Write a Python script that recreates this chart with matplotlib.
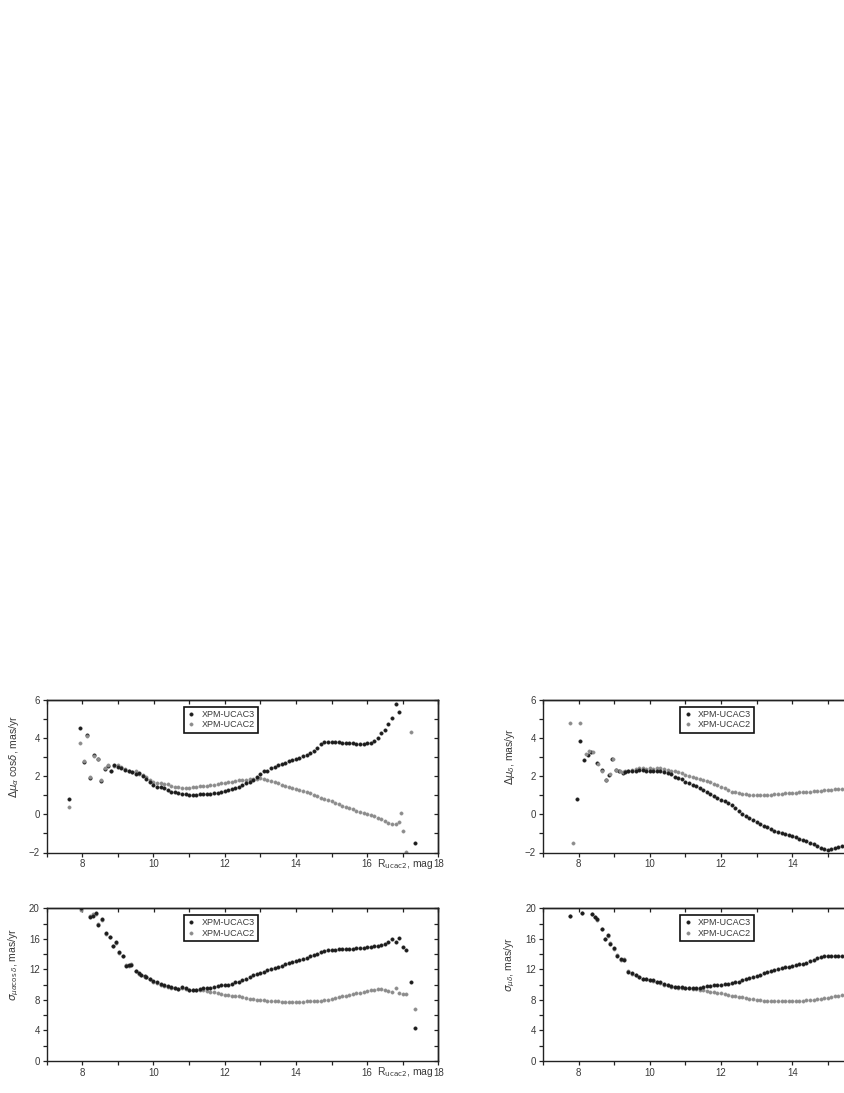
import numpy as np
import matplotlib
matplotlib.use("Agg")
import matplotlib.pyplot as plt
from matplotlib.ticker import MultipleLocator, FixedLocator, NullFormatter

plt.rcParams['font.family'] = ['Liberation Sans', 'DejaVu Sans']
plt.rcParams['mathtext.fontset'] = 'dejavusans'

# ---------------- data ----------------
# Panel A: delta mu_alpha cos(delta)
a_early_x = [7.64, 7.94, 8.05, 8.13, 8.23, 8.34, 8.43, 8.53, 8.64, 8.73]
a_early_u3 = [0.83, 4.54, 2.75, 4.16, 1.93, 3.10, 2.93, 1.75, 2.40, 2.55]
a_early_u2 = [0.38, 3.77, 2.80, 4.10, 1.95, 3.05, 2.90, 1.80, 2.45, 2.60]
a_grid = np.round(np.arange(8.8, 16.95, 0.1), 1)
a_u3 = [2.30, 2.60, 2.50, 2.45, 2.35, 2.25, 2.20, 2.10, 2.15, 2.00,
        1.85, 1.70, 1.55, 1.45, 1.45, 1.40, 1.30, 1.20, 1.15, 1.10,
        1.08, 1.05, 1.02, 1.00, 1.03, 1.05, 1.07, 1.05, 1.08, 1.10,
        1.12, 1.18, 1.22, 1.28, 1.32, 1.40, 1.45, 1.55, 1.62, 1.72,
        1.80, 1.95, 2.10, 2.25, 2.30, 2.42, 2.50, 2.60, 2.65, 2.72,
        2.80, 2.85, 2.90, 2.95, 3.05, 3.12, 3.22, 3.35, 3.50, 3.68,
        3.80, 3.82, 3.80, 3.80, 3.78, 3.76, 3.75, 3.73, 3.72, 3.70,
        3.70, 3.70, 3.72, 3.75, 3.85, 4.02, 4.25, 4.45, 4.72, 5.05,
        5.80, 5.35]
a_u2 = [2.25, 2.55, 2.60, 2.50, 2.40, 2.30, 2.20, 2.25, 2.10, 2.05,
        1.95, 1.80, 1.70, 1.65, 1.62, 1.60, 1.58, 1.50, 1.45, 1.42,
        1.40, 1.40, 1.40, 1.42, 1.45, 1.48, 1.48, 1.50, 1.52, 1.55,
        1.60, 1.62, 1.66, 1.70, 1.72, 1.75, 1.78, 1.80, 1.82, 1.85,
        1.86, 1.88, 1.90, 1.85, 1.80, 1.74, 1.68, 1.62, 1.56, 1.50,
        1.45, 1.40, 1.35, 1.28, 1.22, 1.16, 1.10, 1.02, 0.95, 0.88,
        0.80, 0.74, 0.68, 0.60, 0.52, 0.45, 0.38, 0.32, 0.26, 0.20,
        0.14, 0.08, 0.03, -0.04, -0.10, -0.18, -0.25, -0.35, -0.45, -0.52,
        -0.48, -0.42]
a_tail_u3_x = [17.34]
a_tail_u3 = [-1.50]
a_tail_u2_x = [16.95, 17.02, 17.10, 17.22]
a_tail_u2 = [0.07, -0.88, -1.97, 4.33]

# Panel B: delta mu_delta
b_early_u3_x = [7.95, 8.04, 8.15, 8.25, 8.35, 8.53, 8.65, 8.76, 8.85, 8.95, 9.04, 9.14, 9.25]
b_early_u3 = [0.79, 3.84, 2.84, 3.10, 3.25, 2.67, 2.32, 1.79, 2.09, 2.89, 2.33, 2.30, 2.16]
b_early_u2_x = [7.76, 7.85, 8.04, 8.20, 8.30, 8.40, 8.55, 8.67, 8.78, 8.87, 8.96, 9.05, 9.15, 9.25]
b_early_u2 = [4.80, -1.49, 4.80, 3.15, 3.35, 3.25, 2.65, 2.30, 1.80, 2.10, 2.90, 2.35, 2.25, 2.20]
b_grid = np.round(np.arange(9.3, 15.55, 0.1), 1)
b_u3 = [2.20, 2.25, 2.30, 2.30, 2.35, 2.35, 2.30, 2.25, 2.25, 2.30,
        2.25, 2.20, 2.15, 2.10, 1.95, 1.90, 1.85, 1.72, 1.62, 1.55,
        1.48, 1.38, 1.28, 1.18, 1.08, 0.98, 0.88, 0.78, 0.68, 0.58,
        0.47, 0.35, 0.18, 0.02, -0.10, -0.20, -0.30, -0.40, -0.50, -0.60,
        -0.68, -0.76, -0.85, -0.92, -0.98, -1.03, -1.08, -1.13, -1.20, -1.27,
        -1.33, -1.40, -1.48, -1.57, -1.66, -1.74, -1.82, -1.85, -1.82, -1.76,
        -1.70, -1.65, -1.60]
b_u2 = [2.25, 2.30, 2.35, 2.40, 2.45, 2.45, 2.40, 2.45, 2.40, 2.45,
        2.45, 2.40, 2.35, 2.30, 2.25, 2.20, 2.15, 2.08, 2.02, 1.98,
        1.92, 1.86, 1.80, 1.74, 1.68, 1.60, 1.52, 1.44, 1.36, 1.28,
        1.20, 1.15, 1.12, 1.08, 1.05, 1.03, 1.02, 1.00, 1.00, 1.02,
        1.03, 1.04, 1.05, 1.07, 1.08, 1.10, 1.11, 1.12, 1.14, 1.15,
        1.16, 1.17, 1.19, 1.21, 1.23, 1.25, 1.27, 1.28, 1.30, 1.31,
        1.32, 1.34, 1.35]

# Panel C: sigma mu_alpha cos(delta)
c_early_x = [7.96, 8.23, 8.30, 8.38, 8.45, 8.55, 8.66, 8.77, 8.86, 8.95,
             9.04, 9.14, 9.23, 9.30, 9.37, 9.50, 9.58, 9.66, 9.75]
c_early_u3 = [20.0, 18.8, 19.0, 19.4, 17.8, 18.6, 16.7, 16.2, 15.0, 15.6,
              14.25, 13.7, 12.5, 12.6, 12.6, 11.85, 11.5, 11.3, 11.1]
c_early_u2 = [19.8, 19.0, 19.2, 19.3, 18.0, 18.5, 16.6, 16.3, 15.1, 15.5,
              14.2, 13.8, 12.6, 12.5, 12.7, 11.8, 11.4, 11.2, 11.0]
c_grid = np.round(np.arange(9.8, 17.15, 0.1), 1)
c_u3 = [11.0, 10.7, 10.5, 10.3, 10.1, 9.9, 9.8, 9.7, 9.6, 9.4,
        9.7, 9.5, 9.3, 9.3, 9.3, 9.4, 9.5, 9.5, 9.6, 9.7,
        9.8, 9.9, 9.95, 10.0, 10.1, 10.3, 10.4, 10.6, 10.8, 11.0,
        11.2, 11.35, 11.5, 11.7, 11.9, 12.05, 12.2, 12.35, 12.5, 12.65,
        12.8, 12.95, 13.1, 13.25, 13.4, 13.55, 13.7, 13.9, 14.05, 14.25,
        14.4, 14.5, 14.55, 14.6, 14.62, 14.65, 14.68, 14.7, 14.72, 14.75,
        14.78, 14.82, 14.88, 14.95, 15.0, 15.1, 15.2, 15.35, 15.55, 15.95,
        15.6, 16.1, 14.9, 14.6]
c_u2 = [11.0, 10.8, 10.4, 10.2, 10.0, 9.85, 9.75, 9.6, 9.5, 9.45,
        9.6, 9.4, 9.3, 9.35, 9.3, 9.25, 9.25, 9.2, 9.1, 9.0,
        8.9, 8.8, 8.7, 8.65, 8.55, 8.5, 8.45, 8.35, 8.25, 8.15,
        8.1, 8.05, 8.0, 7.95, 7.9, 7.85, 7.82, 7.8, 7.78, 7.75,
        7.72, 7.72, 7.72, 7.75, 7.78, 7.8, 7.8, 7.82, 7.85, 7.9,
        7.95, 8.05, 8.15, 8.25, 8.35, 8.45, 8.55, 8.65, 8.75, 8.85,
        8.95, 9.05, 9.15, 9.25, 9.35, 9.45, 9.4, 9.3, 9.2, 9.1,
        9.5, 8.95, 8.8, 8.8]
c_tail_u3_x = [17.24, 17.34]
c_tail_u3 = [10.3, 4.3]
c_tail_u2_x = [17.34]
c_tail_u2 = [6.8]

# Panel D: sigma mu_delta
d_early_x = [7.76, 8.09, 8.37, 8.46, 8.53, 8.65, 8.74, 8.82, 8.88, 8.99,
             9.09, 9.19, 9.27, 9.40, 9.50, 9.60]
d_early_u3 = [19.0, 19.4, 19.25, 18.8, 18.6, 17.25, 15.95, 16.5, 15.3, 14.8,
              13.8, 13.3, 13.2, 11.7, 11.5, 11.2]
d_early_u2 = [19.0, 19.4, 19.3, 18.9, 18.5, 17.3, 16.0, 16.4, 15.4, 14.7,
              13.9, 13.2, 13.3, 11.8, 11.4, 11.3]
d_grid = np.round(np.arange(9.7, 15.55, 0.1), 1)
d_u3 = [11.0, 10.8, 10.7, 10.65, 10.6, 10.4, 10.3, 10.1, 9.95, 9.8,
        9.7, 9.7, 9.65, 9.6, 9.6, 9.55, 9.55, 9.6, 9.7, 9.8,
        9.85, 9.9, 9.95, 10.0, 10.05, 10.1, 10.2, 10.3, 10.4, 10.55,
        10.7, 10.85, 11.0, 11.15, 11.3, 11.5, 11.65, 11.8, 11.95, 12.05,
        12.15, 12.25, 12.35, 12.45, 12.55, 12.65, 12.75, 12.9, 13.05, 13.25,
        13.45, 13.65, 13.75, 13.78, 13.78, 13.78, 13.78, 13.78, 13.78]
d_u2 = [11.0, 10.8, 10.7, 10.6, 10.5, 10.4, 10.2, 10.0, 9.9, 9.75,
        9.65, 9.6, 9.6, 9.55, 9.5, 9.45, 9.4, 9.3, 9.25, 9.2,
        9.1, 9.0, 8.95, 8.85, 8.75, 8.65, 8.55, 8.5, 8.4, 8.35,
        8.25, 8.15, 8.1, 8.05, 7.95, 7.9, 7.85, 7.82, 7.8, 7.8,
        7.8, 7.82, 7.85, 7.85, 7.88, 7.9, 7.92, 7.95, 8.0, 8.05,
        8.1, 8.18, 8.25, 8.3, 8.38, 8.45, 8.52, 8.6, 8.67]

labels = ['XPM-UCAC3', 'XPM-UCAC2']
ylabels = [r'$\Delta\mu_{\alpha}$ cos$\delta$, mas/yr',
           r'$\Delta\mu_{\delta}$, mas/yr',
           r'$\sigma_{\mu\alpha\cos\delta}$, mas/yr',
           r'$\sigma_{\mu\delta}$, mas/yr']
xlabel = r'R$_{\rm ucac2}$, mag'
xticks_full = [8, 10, 12, 14, 16, 18]
xticks_cut = [8, 10, 12, 14]   # right-hand panels are cut by the page edge

# ---------------- figure ----------------
W, H = 845, 1093
fig = plt.figure(figsize=(W / 100, H / 100), dpi=100)

def rect(x0, x1, ytop, ybot):
    return [x0 / W, 1 - ybot / H, (x1 - x0) / W, (ybot - ytop) / H]

ax_a = fig.add_axes(rect(46.7, 438.3, 700, 852.5))
ax_b = fig.add_axes(rect(543.0, 934.6, 700, 852.5))
ax_c = fig.add_axes(rect(46.7, 438.3, 908.3, 1061))
ax_d = fig.add_axes(rect(543.0, 934.6, 908.3, 1061))

c3 = '#1c1c1c'
c2 = '#8c8c8c'
ms3 = 2.6
ms2 = 2.5
tc = '#3a3a3a'

def pts(ax, x, y, which):
    if which == 3:
        return ax.plot(x, y, ls='none', marker='o', ms=ms3, color=c3, mec=c3, mew=0.2)
    return ax.plot(x, y, ls='none', marker='o', ms=ms2, color=c2, mec=c2, mew=0.2)

# Panel A
h3 = pts(ax_a, a_early_x, a_early_u3, 3)
h2 = pts(ax_a, a_early_x, a_early_u2, 2)
pts(ax_a, a_grid, a_u2, 2)
pts(ax_a, a_grid, a_u3, 3)
pts(ax_a, a_tail_u3_x, a_tail_u3, 3)
pts(ax_a, a_tail_u2_x, a_tail_u2, 2)
# Panel B
pts(ax_b, b_early_u3_x, b_early_u3, 3)
pts(ax_b, b_early_u2_x, b_early_u2, 2)
pts(ax_b, b_grid, b_u2, 2)
pts(ax_b, b_grid, b_u3, 3)
# Panel C
pts(ax_c, c_early_x, c_early_u2, 2)
pts(ax_c, c_early_x, c_early_u3, 3)
pts(ax_c, c_grid, c_u2, 2)
pts(ax_c, c_grid, c_u3, 3)
pts(ax_c, c_tail_u3_x, c_tail_u3, 3)
pts(ax_c, c_tail_u2_x, c_tail_u2, 2)
# Panel D
pts(ax_d, d_early_x, d_early_u2, 2)
pts(ax_d, d_early_x, d_early_u3, 3)
pts(ax_d, d_grid, d_u2, 2)
pts(ax_d, d_grid, d_u3, 3)

panels = [(ax_a, ylabels[0], (-2, 6), 2, 1, True),
          (ax_b, ylabels[1], (-2, 6), 2, 1, False),
          (ax_c, ylabels[2], (0, 20), 4, 2, True),
          (ax_d, ylabels[3], (0, 20), 4, 2, False)]

for ax, yl, ylim, ymaj, ymin, full in panels:
    ax.set_xlim(7, 18)
    ax.set_ylim(*ylim)
    ax.xaxis.set_major_locator(FixedLocator(xticks_full if full else xticks_cut))
    ax.xaxis.set_minor_locator(MultipleLocator(1))
    ax.yaxis.set_major_locator(MultipleLocator(ymaj))
    ax.yaxis.set_minor_locator(MultipleLocator(ymin))
    ax.tick_params(which='both', direction='out', length=3, width=0.9,
                   colors='#222222', labelcolor=tc, labelsize=7, pad=2)
    for sp in ax.spines.values():
        sp.set_linewidth(1.0)
        sp.set_color('#222222')
    # inward ticks on top and right (Origin style)
    sx = ax.secondary_xaxis('top')
    sx.xaxis.set_major_locator(MultipleLocator(1))
    sx.xaxis.set_major_formatter(NullFormatter())
    sx.tick_params(direction='in', length=3, width=0.9, colors='#222222')
    sx.spines['top'].set_linewidth(1.0)
    sy = ax.secondary_yaxis('right')
    sy.yaxis.set_major_locator(MultipleLocator(ymin))
    sy.yaxis.set_major_formatter(NullFormatter())
    sy.tick_params(direction='in', length=3, width=0.9, colors='#222222')
    sy.spines['right'].set_linewidth(1.0)

    ax.set_ylabel(yl, fontsize=7.5, color=tc)
    ax.yaxis.set_label_coords(-0.066, 0.63)
    if full:
        ax.annotate(xlabel, xy=(16.28, 0), xycoords=('data', 'axes fraction'),
                    xytext=(0, -8.2), textcoords='offset points',
                    ha='left', va='center', fontsize=7.5, color=tc)
    leg = ax.legend([h3[0], h2[0]], labels, loc='upper left',
                    bbox_to_anchor=(0.35, 0.955), borderaxespad=0,
                    fontsize=6.5, frameon=True, fancybox=False,
                    handlelength=1.0, handletextpad=0.6, borderpad=0.35,
                    labelspacing=0.15, markerscale=1.0)
    fr = leg.get_frame()
    fr.set_edgecolor('#111111')
    fr.set_linewidth(1.2)
    fr.set_alpha(1)
    for t in leg.get_texts():
        t.set_color(tc)

fig.savefig('out.png', dpi=100)
